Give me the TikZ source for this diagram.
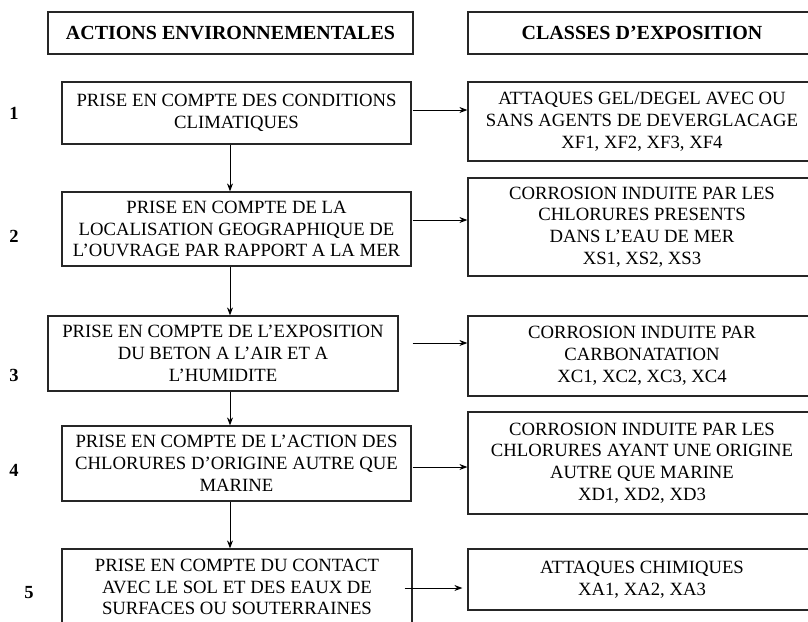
\documentclass[tikz,border=0pt]{standalone}
\usepackage{fontspec}
\setmainfont{Liberation Serif}
\usetikzlibrary{arrows.meta}
\begin{document}
\begin{tikzpicture}[x=1pt,y=-1pt,
  box/.style={draw=black!85, line width=1.2pt, rectangle, inner sep=0pt, align=center,
    font=\fontsize{18.7}{21.8}\selectfont},
  lbox/.style={box, minimum width=349pt},
  rbox/.style={box, minimum width=348pt},
  head/.style={box, minimum height=42pt, font=\fontsize{20}{22}\selectfont\bfseries},
  num/.style={font=\fontsize{18.5}{20}\selectfont\bfseries, inner sep=0pt},
  arr/.style={line width=1pt, -{Stealth[length=8pt,width=6pt]}}]
\useasboundingbox (0,0) rectangle (808,621);

% headers
\node[head, minimum width=365pt] (H1) at (230.5,33) {ACTIONS ENVIRONNEMENTALES};
\node[head, minimum width=348pt] (H2) at (642,33) {CLASSES D’EXPOSITION};

% left column
\node[lbox, minimum height=62pt] (L1) at (236.5,113) {PRISE EN COMPTE DES CONDITIONS\\CLIMATIQUES};
\node[lbox, minimum height=74pt] (L2) at (236.5,229) {PRISE EN COMPTE DE LA\\LOCALISATION GEOGRAPHIQUE DE\\L’OUVRAGE PAR RAPPORT A LA MER};
\node[box, minimum width=350pt, minimum height=75pt] (L3) at (223,353.5) {PRISE EN COMPTE DE L’EXPOSITION\\DU BETON A L’AIR ET A\\L’HUMIDITE};
\node[lbox, minimum height=75pt] (L4) at (236.5,463.5) {PRISE EN COMPTE DE L’ACTION DES\\CHLORURES D’ORIGINE AUTRE QUE\\MARINE};
\node[box, minimum width=350pt, minimum height=76pt] (L5) at (237,587) {PRISE EN COMPTE DU CONTACT\\AVEC LE SOL ET DES EAUX DE\\SURFACES OU SOUTERRAINES};

% right column
\node[rbox, minimum height=79pt] (R1) at (642,121.5) {ATTAQUES GEL/DEGEL AVEC OU\\SANS AGENTS DE DEVERGLACAGE\\XF1, XF2, XF3, XF4};
\node[rbox, minimum height=98pt] (R2) at (642,227) {CORROSION INDUITE PAR LES\\CHLORURES PRESENTS\\DANS L’EAU DE MER\\XS1, XS2, XS3};
\node[rbox, minimum height=80pt] (R3) at (642,356) {CORROSION INDUITE PAR\\CARBONATATION\\XC1, XC2, XC3, XC4};
\node[rbox, minimum height=102pt] (R4) at (642,463) {CORROSION INDUITE PAR LES\\CHLORURES AYANT UNE ORIGINE\\AUTRE QUE MARINE\\XD1, XD2, XD3};
\node[rbox, minimum height=61pt] (R5) at (642,579.5) {ATTAQUES CHIMIQUES\\XA1, XA2, XA3};

% numbers
\node[num] (n1) at (14,113) {1};
\node[num] (n2) at (14,236) {2};
\node[num] (n3) at (14,375) {3};
\node[num] (n4) at (14,470) {4};
\node[num] (n5) at (29,593) {5};

% vertical arrows
\coordinate (vx) at (230,0);
\draw[arr] (L1.south -| vx) -- (L2.north -| vx);
\draw[arr] (L2.south -| vx) -- (L3.north -| vx);
\draw[arr] (L3.south -| vx) -- (L4.north -| vx);
\draw[arr] (L4.south -| vx) -- (L5.north -| vx);

% horizontal arrows
\coordinate (r1) at (0,110);
\coordinate (r2) at (0,220);
\coordinate (r3) at (0,343);
\coordinate (r4) at (0,467);
\coordinate (r5) at (0,588);
\draw[arr] ([xshift=1pt]L1.east |- r1) -- (R1.west |- r1);
\draw[arr] ([xshift=1pt]L2.east |- r2) -- (R2.west |- r2);
\draw[arr] ([xshift=14pt]L3.east |- r3) -- (R3.west |- r3);
\draw[arr] ([xshift=1pt]L4.east |- r4) -- (R4.west |- r4);
\draw[arr] ([xshift=-8pt]L5.east |- r5) -- ([xshift=-5pt]R5.west |- r5);
\end{tikzpicture}
\end{document}
